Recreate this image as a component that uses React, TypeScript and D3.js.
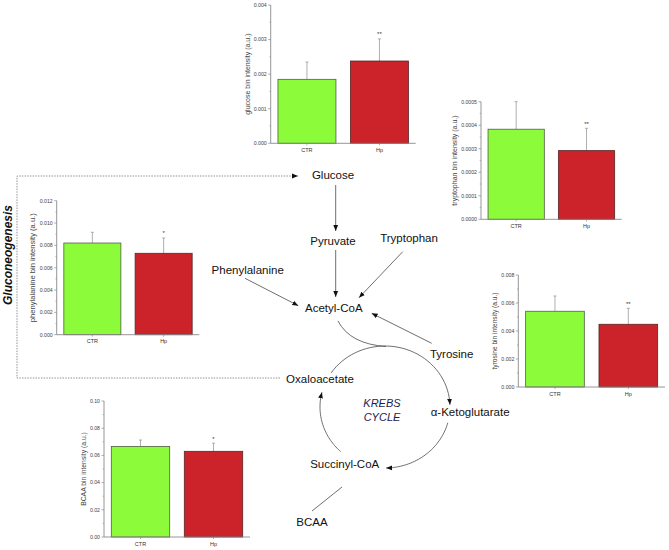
import React from 'react';
import * as d3 from 'd3';

const groups = ['CTR', 'Hp'];

const glucoseMean = [0.00185, 0.00238];
const glucoseErr = [0.0005, 0.00064];
const glucoseSig = ['', '**'];
const glucoseTicks = [0, 0.001, 0.002, 0.003, 0.004];

const tryptophanMean = [0.000383, 0.000292];
const tryptophanErr = [0.000117, 0.000095];
const tryptophanSig = ['', '**'];
const tryptophanTicks = [0, 0.0001, 0.0002, 0.0003, 0.0004, 0.0005];

const phenylalanineMean = [0.00821, 0.00729];
const phenylalanineErr = [0.00096, 0.00137];
const phenylalanineSig = ['', '*'];
const phenylalanineTicks = [0, 0.002, 0.004, 0.006, 0.008, 0.01, 0.012];

const tyrosineMean = [0.00541, 0.00448];
const tyrosineErr = [0.00109, 0.00114];
const tyrosineSig = ['', '**'];
const tyrosineTicks = [0, 0.002, 0.004, 0.006, 0.008];

const bcaaMean = [0.0666, 0.063];
const bcaaErr = [0.0047, 0.006];
const bcaaSig = ['', '*'];
const bcaaTicks = [0, 0.02, 0.04, 0.06, 0.08, 0.1];

const barColors = ['#8cfc3a', '#cc2229'];
const barStrokes = ['#4f5f45', '#5a2525'];
const FONT = "'Liberation Sans', Arial, Helvetica, sans-serif";

type ChartProps = {
  means: number[]; errs: number[]; sig: string[]; ticks: number[]; digits: number;
  label: string; ax: number; xEnd: number; yTop: number; yBot: number;
  labelX: number; labelSize: number;
};

function BarChart(p: ChartProps) {
  const max = p.ticks[p.ticks.length - 1];
  const y = d3.scaleLinear().domain([0, max]).range([p.yBot, p.yTop]);
  const x = d3.scaleBand<string>().domain(groups).range([p.ax, p.xEnd]).paddingInner(0.2).paddingOuter(0.1);
  const minor = p.ticks.slice(1).map((t, i) => (t + p.ticks[i]) / 2);
  const axisColor = '#8a8a8a';
  return (
    <g fontFamily={FONT}>
      {groups.map((g, i) => {
        const cx = (x(g) as number) + x.bandwidth() / 2;
        const top = y(p.means[i] + p.errs[i]);
        return (
          <g key={g}>
            <line x1={cx} x2={cx} y1={y(p.means[i])} y2={top} stroke="#9a9a9a" strokeWidth={0.8} />
            <line x1={cx - 1.5} x2={cx + 1.5} y1={top} y2={top} stroke="#9a9a9a" strokeWidth={0.8} />
            <rect x={x(g)} y={y(p.means[i])} width={x.bandwidth()} height={p.yBot - y(p.means[i])}
              fill={barColors[i]} stroke={barStrokes[i]} strokeWidth={0.8} />
            {p.sig[i] && (
              <text x={cx} y={top - 2.5} textAnchor="middle" fontSize={6} fill="#333">{p.sig[i]}</text>
            )}
            <line x1={cx} x2={cx} y1={p.yBot} y2={p.yBot + 2} stroke={axisColor} strokeWidth={0.7} />
            <text x={cx} y={p.yBot + 8.5} textAnchor="middle" fontSize={5.5} fill="#333">{g}</text>
          </g>
        );
      })}
      <line x1={p.ax} x2={p.ax} y1={p.yTop} y2={p.yBot} stroke={axisColor} strokeWidth={0.9} />
      <line x1={p.ax} x2={p.xEnd} y1={p.yBot} y2={p.yBot} stroke={axisColor} strokeWidth={0.9} />
      {p.ticks.map((t) => (
        <g key={t}>
          <line x1={p.ax - 2.5} x2={p.ax} y1={y(t)} y2={y(t)} stroke={axisColor} strokeWidth={0.7} />
          <text x={p.ax - 4} y={y(t)} dy="0.35em" textAnchor="end" fontSize={5.2} fill="#444">{t.toFixed(p.digits)}</text>
        </g>
      ))}
      {minor.map((t) => (
        <line key={t} x1={p.ax - 1.3} x2={p.ax} y1={y(t)} y2={y(t)} stroke={axisColor} strokeWidth={0.6} />
      ))}
      <text transform={`translate(${p.labelX},${(p.yTop + p.yBot) / 2}) rotate(-90)`} textAnchor="middle"
        dy="0.35em" fontSize={p.labelSize} fill="#444">{p.label}</text>
    </g>
  );
}

// Krebs cycle ellipse geometry
const CX = 385, CY = 407, RX = 65, RY = 61;
function arcPath(a0: number, a1: number) {
  const n = 40;
  const pts: [number, number][] = d3.range(n + 1).map((i) => {
    const a = ((a0 + (a1 - a0) * (i / n)) * Math.PI) / 180;
    return [CX + RX * Math.cos(a), CY + RY * Math.sin(a)];
  });
  return d3.line()(pts) as string;
}

const labelStyle = { fontFamily: FONT, fontSize: 11.5, fill: '#111' } as const;

export default function App() {
  const lineColor = '#4a4a4a';
  return (
    <svg width={669} height={550} style={{ position: 'absolute', left: 0, top: 0, background: '#fff' }}>
      <defs>
        <marker id="ah" viewBox="0 0 10 10" refX={10} refY={5} markerWidth={6} markerHeight={6}
          orient="auto" markerUnits="userSpaceOnUse">
          <path d="M0,1 L10,5 L0,9 z" fill="#111" />
        </marker>
      </defs>
      <rect width={669} height={550} fill="#fff" />

      {/* Gluconeogenesis dashed loop */}
      <path d="M280,378 L17,378 L17,176 L298,176" fill="none" stroke="#777" strokeWidth={0.8}
        strokeDasharray="1.5,1.2" markerEnd="url(#ah)" />
      <text transform="translate(11.5,255) rotate(-90)" textAnchor="middle" fontFamily={FONT}
        fontSize={12} fontWeight="bold" fontStyle="italic" fill="#111">Gluconeogenesis</text>

      {/* Pathway arrows */}
      <g stroke={lineColor} strokeWidth={0.8} fill="none">
        <line x1={335.7} y1={185} x2={335.7} y2={231} markerEnd="url(#ah)" />
        <line x1={335.7} y1={250} x2={335.7} y2={297} markerEnd="url(#ah)" />
        <line x1={402.7} y1={251.7} x2={359} y2={297.7} markerEnd="url(#ah)" />
        <line x1={245} y1={278.3} x2={298.3} y2={305.7} markerEnd="url(#ah)" />
        <line x1={431.7} y1={343.3} x2={371.7} y2={313.3} markerEnd="url(#ah)" />
        <line x1={342} y1={487} x2={312} y2={511} />
        <path d="M338,321 Q350,344 386,346.5" />
        <path d={arcPath(-146, -2)} markerEnd="url(#ah)" />
        <path d={arcPath(15, 89)} markerEnd="url(#ah)" />
        <path d={arcPath(133, 194)} markerEnd="url(#ah)" />
      </g>

      {/* Pathway labels */}
      <text x={333} y={179} textAnchor="middle" {...labelStyle}>Glucose</text>
      <text x={333} y={245} textAnchor="middle" {...labelStyle}>Pyruvate</text>
      <text x={409} y={241.5} textAnchor="middle" {...labelStyle}>Tryptophan</text>
      <text x={247.7} y={274} textAnchor="middle" {...labelStyle}>Phenylalanine</text>
      <text x={333.8} y={311.7} textAnchor="middle" {...labelStyle}>Acetyl-CoA</text>
      <text x={451.7} y={358.3} textAnchor="middle" {...labelStyle}>Tyrosine</text>
      <text x={320} y={383.3} textAnchor="middle" {...labelStyle}>Oxaloacetate</text>
      <text x={430.7} y={416} textAnchor="start" {...labelStyle}>α-Ketoglutarate</text>
      <text x={344.7} y={468.3} textAnchor="middle" {...labelStyle}>Succinyl-CoA</text>
      <text x={312} y={526} textAnchor="middle" {...labelStyle}>BCAA</text>
      <text x={382} y={407.3} textAnchor="middle" fontFamily={FONT} fontSize={11} fontStyle="italic" fill="#1d1d4d">KREBS</text>
      <text x={382} y={420.7} textAnchor="middle" fontFamily={FONT} fontSize={11} fontStyle="italic" fill="#1d1d4d">CYCLE</text>

      {/* Bar charts */}
      <BarChart means={glucoseMean} errs={glucoseErr} sig={glucoseSig} ticks={glucoseTicks} digits={3}
        label="glucose bin intensity (a.u.)" ax={270.7} xEnd={415.7} yTop={5} yBot={143.3} labelX={248} labelSize={7} />
      <BarChart means={tryptophanMean} errs={tryptophanErr} sig={tryptophanSig} ticks={tryptophanTicks} digits={4}
        label="tryptophan bin intensity (a.u.)" ax={481} xEnd={621.7} yTop={101.7} yBot={219.3} labelX={455} labelSize={7} />
      <BarChart means={phenylalanineMean} errs={phenylalanineErr} sig={phenylalanineSig} ticks={phenylalanineTicks} digits={3}
        label="phenylalanine bin intensity (a.u.)" ax={56.7} xEnd={199.3} yTop={200.7} yBot={334.7} labelX={32.3} labelSize={7.6} />
      <BarChart means={tyrosineMean} errs={tyrosineErr} sig={tyrosineSig} ticks={tyrosineTicks} digits={3}
        label="tyrosine bin intensity (a.u.)" ax={518.3} xEnd={665} yTop={275} yBot={387} labelX={495} labelSize={6.6} />
      <BarChart means={bcaaMean} errs={bcaaErr} sig={bcaaSig} ticks={bcaaTicks} digits={2}
        label="BCAA bin intensity (a.u.)" ax={104} xEnd={250} yTop={401} yBot={537} labelX={83.3} labelSize={6.8} />
    </svg>
  );
}
